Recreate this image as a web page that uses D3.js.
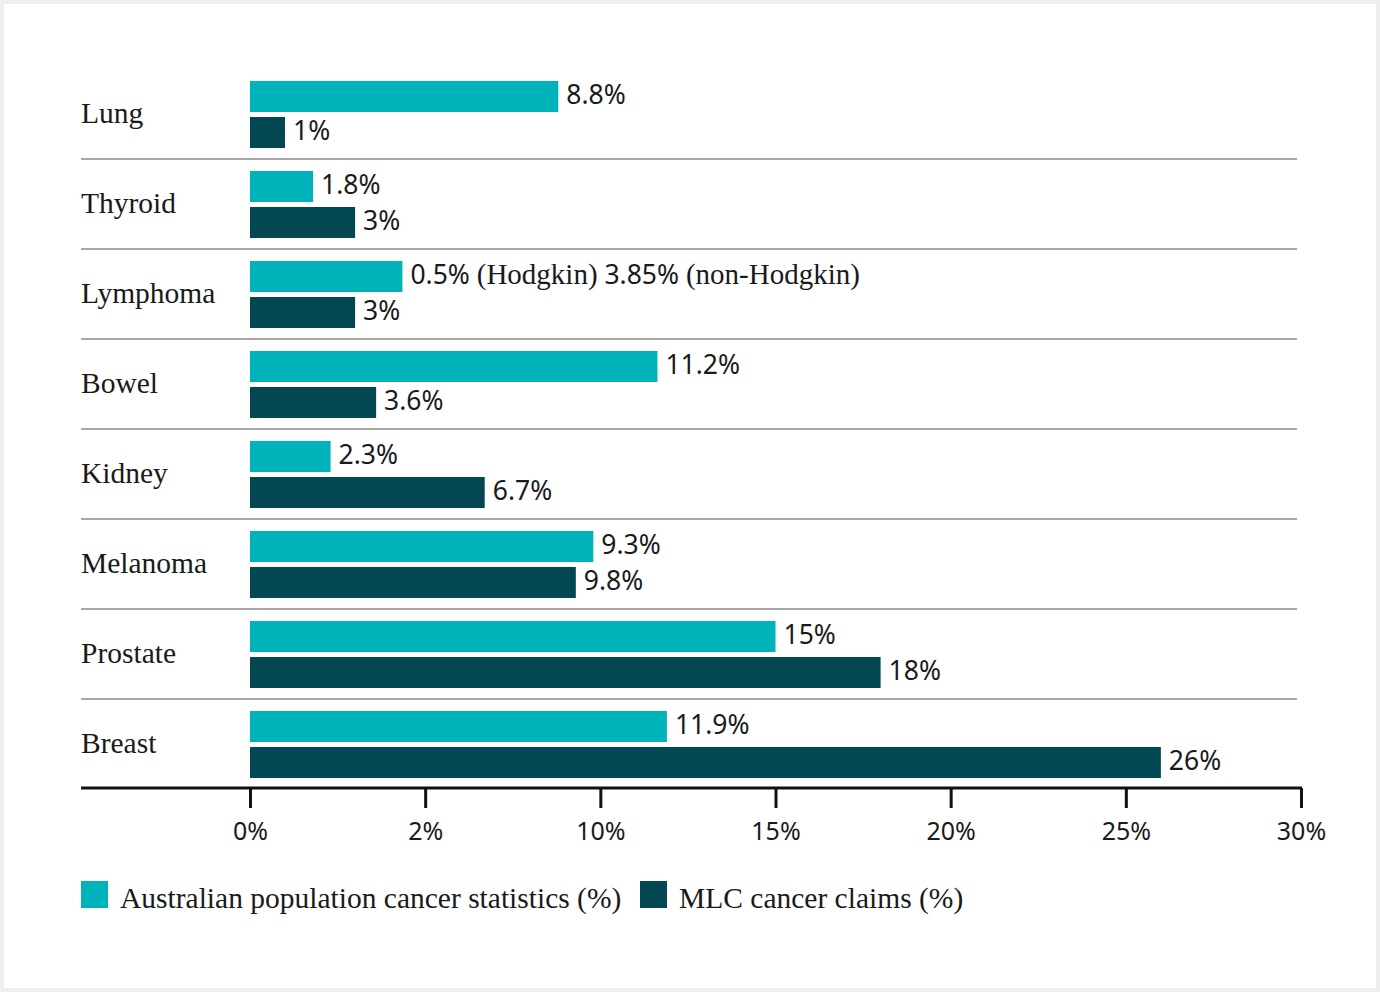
<!DOCTYPE html>
<html><head><meta charset="utf-8">
<script src="https://cdn.jsdelivr.net/npm/d3@7"></script>
<style>
html,body{margin:0;padding:0;background:#efefef;}
svg{display:block;}
</style></head>
<body>
<svg id="chart" width="1380" height="992"></svg>
<script>
const categories = ["Lung","Thyroid","Lymphoma","Bowel","Kidney","Melanoma","Prostate","Breast"];
// bar lengths as drawn in the picture (%)
const populationValues = [8.8, 1.8, 4.35, 11.63, 2.3, 9.8, 15, 11.9];
const claimsValues     = [1, 3, 3, 3.6, 6.7, 9.3, 18, 26];
// value labels as printed
const populationLabels = ["8.8%","1.8%","0.5% (Hodgkin) 3.85% (non-Hodgkin)","11.2%","2.3%","9.3%","15%","11.9%"];
const claimsLabels     = ["1%","3%","3%","3.6%","6.7%","9.8%","18%","26%"];
const tickValues = [0,5,10,15,20,25,30];
const tickLabels = ["0%","2%","10%","15%","20%","25%","30%"];
const seriesNames = ["Australian population cancer statistics (%)","MLC cancer claims (%)"];
const colors = ["#00b2b9","#034752"];

const svg = d3.select("#chart");
svg.append("rect").attr("x",4).attr("y",4).attr("width",1372).attr("height",984).attr("fill","#fff");

const serif = "'Liberation Serif', 'DejaVu Serif', serif";
const sans = "'Noto Sans', 'Open Sans', sans-serif";

const x = d3.scaleLinear().domain([0,30]).range([250,1301]);
const y = d3.scaleBand().domain(categories).range([69,789]).paddingInner(0).paddingOuter(0);
const barH = 31, barTop = 12, gap = 5;

const rows = svg.append("g").selectAll("g").data(categories).join("g")
  .attr("transform", d => `translate(0,${y(d)})`);

// separators
rows.filter((d,i)=>i>0).append("line")
  .attr("x1",81).attr("x2",1297).attr("y1",0).attr("y2",0)
  .attr("stroke","#8a8a8a").attr("stroke-width",1.5);

rows.append("text")
  .attr("x",81).attr("y",y.bandwidth()/2-1).attr("dy","0.35em")
  .attr("font-family",serif).attr("font-size",29.5).attr("fill","#1a1a1a")
  .text(d=>d);

rows.append("rect")
  .attr("x",x(0)).attr("y",barTop)
  .attr("width",(d,i)=>x(populationValues[i])-x(0)).attr("height",barH)
  .attr("fill",colors[0]);
rows.append("rect")
  .attr("x",x(0)).attr("y",barTop+barH+gap)
  .attr("width",(d,i)=>x(claimsValues[i])-x(0)).attr("height",barH)
  .attr("fill",colors[1]);

function labelText(sel, s){
  // numbers in sans, words in serif
  const parts = s.split(/(\([^)]*\))/).filter(p=>p.length);
  parts.forEach(p=>{
    const isWord = p.startsWith("(");
    sel.append("tspan").attr("font-family", isWord ? serif : sans)
      .attr("font-size", isWord ? 29 : 26.5).text(p);
  });
}
rows.append("text")
  .attr("x",(d,i)=>x(populationValues[i])+8).attr("y",barTop+barH/2).attr("dy","0.48em")
  .attr("fill","#1a1a1a")
  .each(function(d,i){ labelText(d3.select(this), populationLabels[i]); });
rows.append("text")
  .attr("x",(d,i)=>x(claimsValues[i])+8).attr("y",barTop+barH+gap+barH/2).attr("dy","0.48em")
  .attr("fill","#1a1a1a")
  .each(function(d,i){ labelText(d3.select(this), claimsLabels[i]); });

// axis
const axisG = svg.append("g").attr("transform","translate(0,788)");
axisG.append("line").attr("x1",81).attr("x2",1302).attr("y1",0).attr("y2",0)
  .attr("stroke","#111").attr("stroke-width",3);
const axis = d3.axisBottom(x).tickValues(tickValues).tickSize(20).tickPadding(14)
  .tickFormat((d,i)=>tickLabels[i]);
axisG.call(axis);
axisG.select(".domain").remove();
axisG.selectAll(".tick line").attr("stroke","#111").attr("stroke-width",3);
axisG.selectAll(".tick text").attr("font-family",sans).attr("font-size",25).attr("fill","#1a1a1a");

// legend
const legend = svg.append("g").attr("transform","translate(81,881)");
seriesNames.forEach((name,i)=>{
  const g = legend.append("g").attr("transform",`translate(${i===0?0:559},0)`);
  g.append("rect").attr("width",27).attr("height",27).attr("fill",colors[i]);
  g.append("text").attr("x",39).attr("y",17).attr("dy","0.35em")
    .attr("font-family",serif).attr("font-size",29.5).attr("fill","#1a1a1a").text(name);
});
</script>
</body></html>
